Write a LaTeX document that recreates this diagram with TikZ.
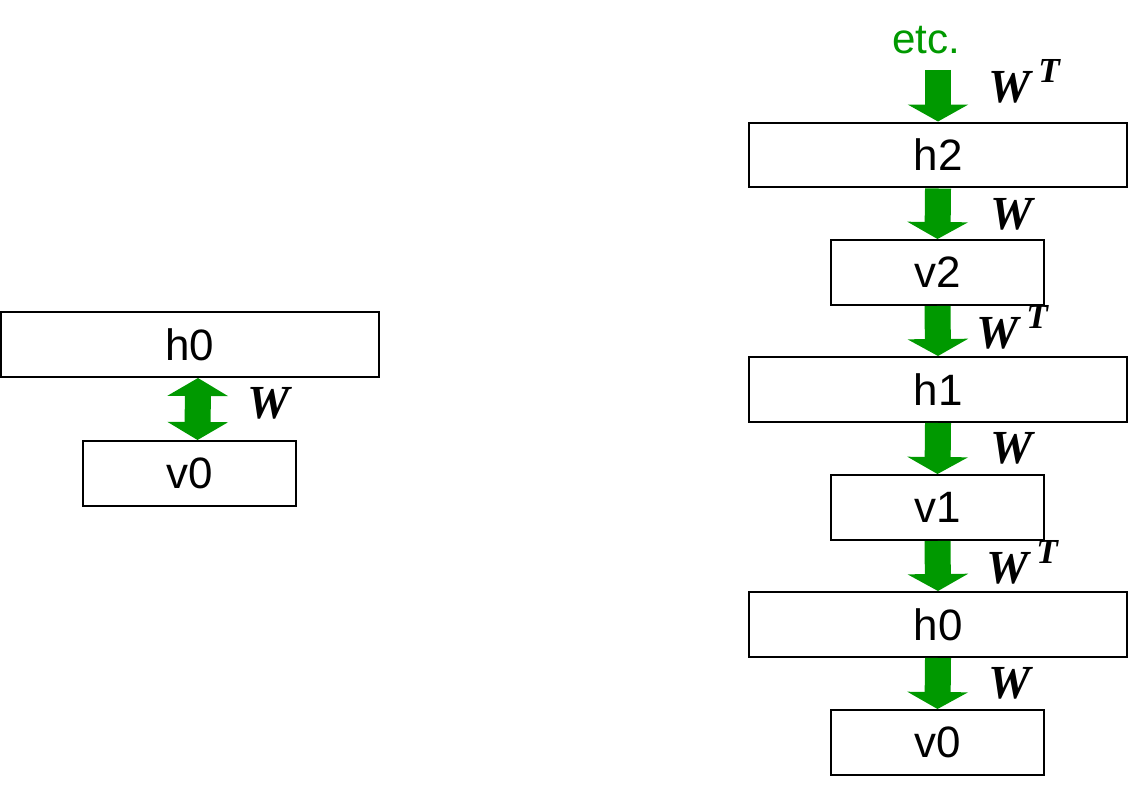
\documentclass[tikz,border=0pt]{standalone}
\usepackage{fontspec}
\setmainfont{Liberation Sans}
\newfontfamily\wfont{Liberation Serif}
\usetikzlibrary{arrows.meta, positioning}
\definecolor{flowgreen}{RGB}{0,153,0}
\newcommand{\wmat}{{\wfont\bfseries\itshape W}}
\newcommand{\wtrans}{{\wfont\bfseries\itshape W\,\raisebox{0.42em}{\fontsize{20}{22}\selectfont T}}}

\begin{document}
\begin{tikzpicture}[
  x=0.02cm, y=-0.02cm,
  hlayer/.style={rectangle, draw=black, line width=0.04cm, minimum width=7.56cm, minimum height=1.3cm, inner sep=0pt, font=\fontsize{25}{30}\selectfont},
  vlayer/.style={hlayer, minimum width=4.26cm},
  flow/.style={draw=flowgreen, line width=0.52cm, -{Triangle[width=1.2cm,length=0.34cm]}, flowgreen},
  flowboth/.style={flow, {Triangle[width=1.2cm,length=0.36cm]}-{Triangle[width=1.2cm,length=0.36cm]}},
  wlabel/.style={anchor=base west, inner sep=0pt, font=\fontsize{27}{32}\selectfont}
]
\useasboundingbox (0,0) rectangle (1128,794);

% Left: single RBM
\node[hlayer] (lh0) at (190,344.5) {h0};
\node[vlayer] (lv0) at (189.5,473.5) {v0};
\draw[flowboth] ([xshift=0.16cm]lh0.south) -- ([xshift=0.16cm]lv0.north);
\node[wlabel] (lw) at (247,418) {\wmat};

% Right: unrolled chain
\node[font=\fontsize{24}{28}\selectfont, text=flowgreen] (etc) at (926,40) {etc.};
\node[hlayer] (h2) at (938,155) {h2};
\node[vlayer] (v2) at (937.5,272.5) {v2};
\node[hlayer] (h1) at (938,389.5) {h1};
\node[vlayer] (v1) at (937.5,507.5) {v1};
\node[hlayer] (h0) at (938,624.5) {h0};
\node[vlayer] (v0) at (937.5,742.5) {v0};
\coordinate (top) at (938,70);

% Arrows
\draw[flow] (top) -- (h2.north);
\draw[flow] (h2.south) -- (v2.north);
\draw[flow] (v2.south) -- (h1.north);
\draw[flow] (h1.south) -- (v1.north);
\draw[flow] (v1.south) -- (h0.north);
\draw[flow] (h0.south) -- (v0.north);

% Weights
\node[wlabel] (w1) at (988,102) {\wtrans};
\node[wlabel] (w2) at (990,229) {\wmat};
\node[wlabel] (w3) at (976,348) {\wtrans};
\node[wlabel] (w4) at (990,463) {\wmat};
\node[wlabel] (w5) at (986,583) {\wtrans};
\node[wlabel] (w6) at (988,698) {\wmat};

\end{tikzpicture}
\end{document}
